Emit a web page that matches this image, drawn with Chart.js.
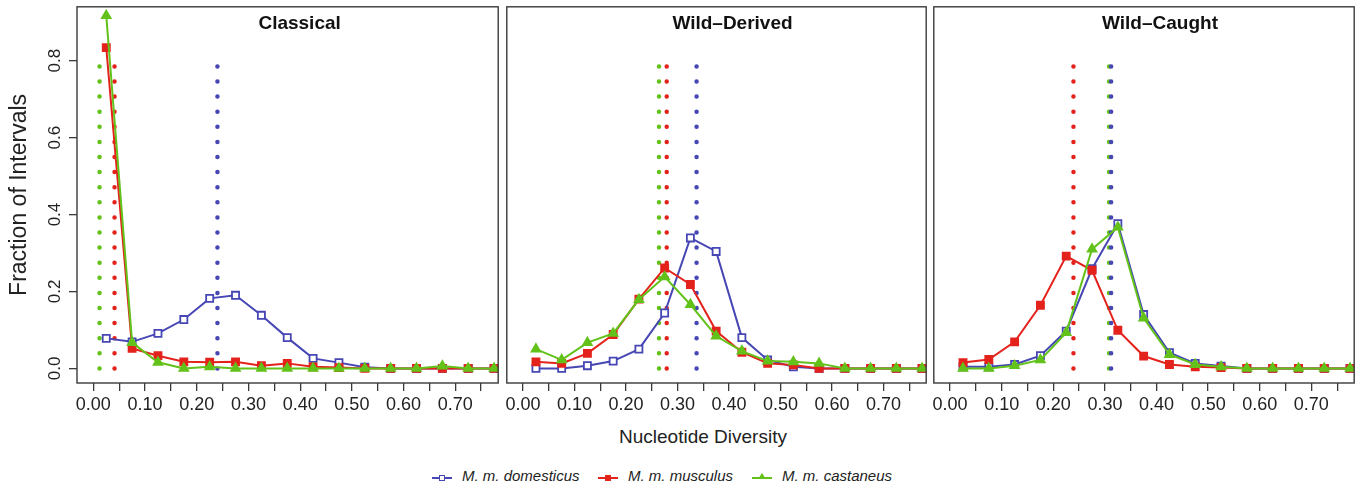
<!DOCTYPE html>
<html>
<head>
<meta charset="utf-8">
<script src="https://cdn.jsdelivr.net/npm/chart.js@4.4.1/dist/chart.umd.min.js"></script>
<style>
  body { margin: 0; background: #fff; width: 1358px; height: 491px; overflow: hidden; position: relative; font-family: "Liberation Sans", Arial, sans-serif; }
  canvas { position: absolute; top: 0; }
  #xtitle { position: absolute; left: 0; width: 1406px; top: 426px; text-align: center; font-size: 19px; color: #222; }
  #legend { position: absolute; top: 467px; left: 432px; font-size: 15px; font-style: italic; color: #222; white-space: nowrap; }
  .item { position: absolute; top: 0; }
  .line { position: absolute; top: 10px; width: 20px; height: 2px; }
  .mk { position: absolute; }
  .txt { position: absolute; left: 30px; top: 0; }
</style>
</head>
<body>
<canvas id="c1" width="505" height="420" style="left:0px"></canvas>
<canvas id="c2" width="433" height="420" style="left:500px"></canvas>
<canvas id="c3" width="434" height="420" style="left:927px"></canvas>
<div id="xtitle">Nucleotide Diversity</div>
<div id="legend"></div>
<script>
// bin centres of the nucleotide diversity histogram
const binCentres = [0.025, 0.075, 0.125, 0.175, 0.225, 0.275, 0.325, 0.375,
                    0.425, 0.475, 0.525, 0.575, 0.625, 0.675, 0.725, 0.775];

const xTicks = [0, 0.05, 0.1, 0.15, 0.2, 0.25, 0.3, 0.35, 0.4, 0.45, 0.5, 0.55, 0.6, 0.65, 0.7, 0.75];
const xTickLabels = ['0.00', '', '0.10', '', '0.20', '', '0.30', '', '0.40', '', '0.50', '', '0.60', '', '0.70', ''];
const yTicks = [0, 0.2, 0.4, 0.6, 0.8];
const yTickLabels = ['0.0', '0.2', '0.4', '0.6', '0.8'];

const panelTitles = ['Classical', 'Wild\u2013Derived', 'Wild\u2013Caught'];
const seriesNames = ['M. m. domesticus', 'M. m. musculus', 'M. m. castaneus'];

// Classical
const classicalDom = [0.078, 0.069, 0.091, 0.127, 0.182, 0.190, 0.138, 0.080, 0.026, 0.015, 0.003, 0, 0, 0, 0, 0];
const classicalMus = [0.834, 0.052, 0.033, 0.017, 0.016, 0.017, 0.007, 0.013, 0.004, 0.002, 0, 0, 0, 0, 0, 0];
const classicalCas = [0.917, 0.067, 0.016, 0, 0.004, 0, 0, 0, 0, 0, 0, 0, 0, 0.006, 0, 0];
const classicalMeans = [0.240, 0.041, 0.012];

// Wild-Derived
const derivedDom = [0, 0, 0.007, 0.019, 0.050, 0.144, 0.339, 0.304, 0.080, 0.022, 0.004, 0, 0, 0, 0, 0];
const derivedMus = [0.017, 0.013, 0.039, 0.088, 0.180, 0.261, 0.218, 0.097, 0.042, 0.013, 0.009, 0, 0, 0, 0, 0];
const derivedCas = [0.050, 0.022, 0.067, 0.091, 0.179, 0.238, 0.166, 0.084, 0.045, 0.019, 0.017, 0.013, 0, 0, 0, 0];
const derivedMeans = [0.337, 0.279, 0.264];

// Wild-Caught
const caughtDom = [0.004, 0.004, 0.010, 0.033, 0.097, 0.259, 0.376, 0.140, 0.041, 0.013, 0.006, 0, 0, 0, 0, 0];
const caughtMus = [0.015, 0.023, 0.069, 0.164, 0.292, 0.255, 0.099, 0.032, 0.010, 0.004, 0.002, 0, 0, 0, 0, 0];
const caughtCas = [0, 0, 0.007, 0.022, 0.093, 0.310, 0.367, 0.131, 0.036, 0.010, 0.004, 0, 0, 0, 0, 0];
const caughtMeans = [0.312, 0.239, 0.308];

const meanLineTop = 0.792;

const colors = ['#4646b4', '#e4221c', '#62c21a'];

// draws the box round the plot, the panel title and the rotated y labels (R style)
const rStyle = {
  id: 'rStyle',
  afterDraw(chart, args, opts) {
    const ctx = chart.ctx;
    const a = chart.chartArea;
    ctx.save();
    ctx.strokeStyle = '#3a3a3a';
    ctx.lineWidth = 1.4;
    ctx.strokeRect(a.left, a.top, a.right - a.left, a.bottom - a.top);
    ctx.fillStyle = '#111';
    ctx.font = 'bold 19px "Liberation Sans", Arial, sans-serif';
    ctx.textAlign = 'center';
    ctx.textBaseline = 'middle';
    ctx.fillText(opts.title, (a.left + a.right) / 2 + opts.shift, a.top + 17);
    if (opts.yLabels) {
      const ys = chart.scales.y;
      ctx.fillStyle = '#222';
      ctx.font = '17px "Liberation Sans", Arial, sans-serif';
      yTicks.forEach((v, i) => {
        ctx.save();
        ctx.translate(a.left - 22, ys.getPixelForValue(v));
        ctx.rotate(-Math.PI / 2);
        ctx.fillText(yTickLabels[i], 0, 0);
        ctx.restore();
      });
    }
    ctx.restore();
  }
};

function makePanel(id, title, dom, mus, cas, means, first) {
  const series = [dom, mus, cas];
  const styles = [
    { pointStyle: 'rect', radius: 5, fill: '#ffffff' },
    { pointStyle: 'rect', radius: 5, fill: colors[1] },
    { pointStyle: 'triangle', radius: 5, fill: colors[2] },
  ];
  const datasets = [];
  series.forEach((vals, i) => {
    datasets.push({
      label: seriesNames[i],
      data: binCentres.map((x, j) => ({ x: x, y: vals[j] })),
      borderColor: colors[i],
      borderWidth: 2,
      pointStyle: styles[i].pointStyle,
      pointRadius: styles[i].radius,
      pointBorderWidth: 1.8,
      pointBackgroundColor: styles[i].fill,
      pointBorderColor: colors[i],
      order: 3 - i,
    });
  });
  means.forEach((m, i) => {
    datasets.push({
      label: 'mean ' + seriesNames[i],
      data: [{ x: m, y: 0 }, { x: m, y: meanLineTop }],
      borderColor: colors[i],
      borderWidth: 4.5,
      borderDash: [0, 15.1],
      borderCapStyle: 'round',
      pointRadius: 0,
      order: 10,
    });
  });

  return new Chart(document.getElementById(id), {
    type: 'line',
    data: { datasets: datasets },
    plugins: [rStyle],
    options: {
      responsive: false,
      animation: false,
      events: [],
      layout: { padding: { left: first ? 0 : 6, right: first ? 2 : 4, top: 6, bottom: 0 } },
      scales: {
        x: {
          type: 'linear',
          min: -0.0316,
          max: 0.783,
          afterBuildTicks: s => { s.ticks = xTicks.map(v => ({ value: v })); },
          afterFit: s => { s.height = 37; },
          ticks: {
            autoSkip: false,
            maxRotation: 0,
            padding: 3,
            color: '#222',
            font: { size: 18, family: '"Liberation Sans", Arial, sans-serif' },
            callback: (v, i) => xTickLabels[i],
          },
          grid: { drawOnChartArea: false, drawTicks: true, tickLength: 8, color: '#3a3a3a', lineWidth: 1.3 },
          border: { display: false },
        },
        y: {
          display: first,
          min: -0.038,
          max: 0.940,
          afterBuildTicks: s => { s.ticks = yTicks.map(v => ({ value: v })); },
          afterFit: s => { s.width = first ? 77 : 0; },
          ticks: { display: false },
          grid: { drawOnChartArea: false, drawTicks: true, tickLength: 8, color: '#3a3a3a', lineWidth: 1.3 },
          border: { display: false },
          title: {
            display: first,
            text: 'Fraction of Intervals',
            color: '#222',
            font: { size: 23, family: '"Liberation Sans", Arial, sans-serif' },
            padding: { top: 6, bottom: 0 },
          },
        },
      },
      plugins: {
        legend: { display: false },
        tooltip: { enabled: false },
        rStyle: { title: title, yLabels: first, shift: first ? 12 : 16 },
      },
    },
  });
}

makePanel('c1', panelTitles[0], classicalDom, classicalMus, classicalCas, classicalMeans, true);
makePanel('c2', panelTitles[1], derivedDom, derivedMus, derivedCas, derivedMeans, false);
makePanel('c3', panelTitles[2], caughtDom, caughtMus, caughtCas, caughtMeans, false);

// legend below the panels
const legendX = [0, 166, 320];
const legend = document.getElementById('legend');
seriesNames.forEach((name, i) => {
  const item = document.createElement('div');
  item.className = 'item';
  item.style.left = legendX[i] + 'px';
  let marker;
  if (i === 0) marker = '<div class="mk" style="left:7px;top:8px;width:4px;height:4px;border:1.5px solid ' + colors[0] + ';background:#fff"></div>';
  else if (i === 1) marker = '<div class="mk" style="left:7px;top:8px;width:6px;height:6px;background:' + colors[1] + '"></div>';
  else marker = '<div class="mk" style="left:6px;top:6px;width:0;height:0;border-left:4px solid transparent;border-right:4px solid transparent;border-bottom:6px solid ' + colors[2] + '"></div>';
  item.innerHTML = '<div class="line" style="background:' + colors[i] + '"></div>' + marker + '<span class="txt">' + name + '</span>';
  legend.appendChild(item);
});
</script>
</body>
</html>
